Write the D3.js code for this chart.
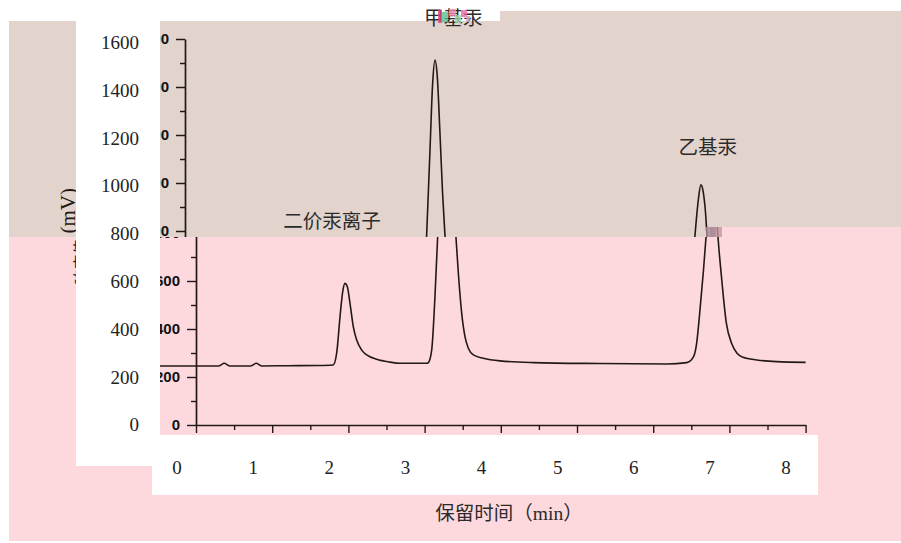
<!DOCTYPE html>
<html>
<head>
<meta charset="utf-8">
<script src="https://cdn.jsdelivr.net/npm/d3@7"></script>
<style>
  html, body { margin: 0; padding: 0; background: #fff; }
  svg { display: block; }
</style>
</head>
<body>
<div id="chart"></div>
<script>
// chromatogram: retention time (min) and signal (mV)
const times = [-0.5, 0, 0.30, 0.37, 0.44, 0.72, 0.79, 0.86, 1.20, 1.60,
  1.80, 1.846, 1.89, 1.925, 1.955, 1.986, 2.021, 2.064, 2.109, 2.175, 2.24, 2.371, 2.546, 2.677, 3.028,
  3.049, 3.093, 3.136, 3.17, 3.215, 3.25, 3.281, 3.311, 3.346, 3.38, 3.41, 3.443, 3.487, 3.53, 3.574, 3.64, 3.771, 3.99, 4.43, 5.30,
  6.18, 6.44, 6.53, 6.57, 6.61, 6.66, 6.695, 6.736, 6.77, 6.80, 6.83, 6.85, 6.90, 6.96, 7.03, 7.10, 7.18, 7.36, 7.62, 8.0];
const signal = [246, 246, 246, 257, 246, 246, 257, 246, 247, 248,
  250, 299, 451, 555, 590, 576, 507, 410, 354, 312, 292, 274, 262, 257, 257,
  260, 312, 535, 775, 1137, 1415, 1512, 1443, 1207, 960, 790, 632, 465, 368, 320, 292, 278, 267, 260, 256,
  254, 260, 285, 340, 465, 646, 790, 929, 992, 964, 880, 785, 604, 424, 340, 299, 282, 271, 264, 261];

// peak names and where they are written (time, mV)
const peakNames = ["二价汞离子", "甲基汞", "乙基汞"];
const peakLabelTimes = [1.93, 3.52, 6.86];
const peakLabelValues = [848, 1692, 1158];

const yTicks = [0, 200, 400, 600, 800, 1000, 1200, 1400, 1600];
const yMinor = [100, 300, 500, 700, 900, 1100, 1300, 1500];
const xTicks = [0, 1, 2, 3, 4, 5, 6, 7, 8];
const xMinor = [0.5, 1.5, 2.5, 3.5, 4.5, 5.5, 6.5, 7.5];

const yTitleName = "响应值";
const yTitleUnit = "(mV)";
const xTitle = "保留时间（min）";

const data = times.map((t, i) => ({t: t, v: signal[i]}));

const W = 901, H = 543;
const ink = "#231815";

const svg = d3.select("#chart").append("svg")
  .attr("width", W)
  .attr("height", H);

const x = d3.scaleLinear().domain([0, 8]).range([196, 805.6]);
const y = d3.scaleLinear().domain([0, 1600]).range([425, 41]);

// background bands (the scan is split in two slightly shifted strips)
const brownPts = [[9,21],[500,21],[500,11],[901,11],[901,227],[714,227],[714,237],[9,237]];
const pinkPts = [[9,237],[714,237],[714,227],[901,227],[901,541],[9,541]];

const defs = svg.append("defs");
defs.append("clipPath").attr("id", "clipTop")
  .append("polygon").attr("points", brownPts.join(" "));
defs.append("clipPath").attr("id", "clipLow")
  .append("polygon").attr("points", pinkPts.join(" "));

svg.append("polygon").attr("points", pinkPts.join(" ")).attr("fill", "#fdd9dd");
svg.append("polygon").attr("points", brownPts.join(" ")).attr("fill", "#e2d4cc");

const line = d3.line()
  .x(d => x(d.t))
  .y(d => y(d.v))
  .curve(d3.curveMonotoneX);

const drawChart = (g) => {
  // y title (mostly hidden under the white strip)
  const yt = g.append("text")
    .attr("transform", "translate(86,190) rotate(-90)")
    .attr("text-anchor", "end")
    .attr("font-family", "'Liberation Serif', 'Noto Sans CJK SC', serif")
    .attr("fill", ink);
  yt.append("tspan").attr("font-size", 15).text(yTitleName);
  yt.append("tspan").attr("font-size", 21).attr("dx", 4).text(yTitleUnit);

  // minor ticks
  const ym = g.append("g").attr("transform", "translate(" + x(0) + ",0)")
    .call(d3.axisLeft(y).tickValues(yMinor).tickSize(5).tickFormat(""));
  ym.select(".domain").remove();
  const xm = g.append("g").attr("transform", "translate(0," + y(0) + ")")
    .call(d3.axisBottom(x).tickValues(xMinor).tickSize(5).tickFormat(""));
  xm.select(".domain").remove();

  // y axis
  g.append("g")
    .attr("class", "axis axis--y")
    .attr("transform", "translate(" + x(0) + ",0)")
    .call(d3.axisLeft(y).tickValues(yTicks).tickSize(9).tickSizeOuter(0).tickPadding(7).tickFormat(d3.format("d")));

  // x axis
  g.append("g")
    .attr("class", "axis axis--x")
    .attr("transform", "translate(0," + y(0) + ")")
    .call(d3.axisBottom(x).tickValues(xTicks).tickSize(8).tickSizeOuter(0).tickPadding(6).tickFormat(d3.format("d")));

  g.selectAll(".tick line").attr("stroke", ink).attr("stroke-width", 1.4);
  g.selectAll(".domain").attr("stroke", ink).attr("stroke-width", 1.7);
  g.selectAll(".tick text")
    .attr("font-family", "'Liberation Sans', Arial, sans-serif")
    .attr("font-weight", "bold")
    .attr("font-size", 15)
    .attr("fill", "#111");

  g.append("path")
    .datum(data)
    .attr("fill", "none")
    .attr("stroke", ink)
    .attr("stroke-width", 1.6)
    .attr("d", line);
};

// lower strip
const lowStrip = svg.append("g").attr("clip-path", "url(#clipLow)");
drawChart(lowStrip);

// upper strip, shifted
const topStrip = svg.append("g").attr("clip-path", "url(#clipTop)")
  .append("g").attr("transform", "translate(-11,-2)");
drawChart(topStrip);

// peak labels
svg.append("g").attr("transform", "translate(-11,-2)")
  .selectAll("text")
  .data(peakNames)
  .enter().append("text")
  .attr("x", (d, i) => x(peakLabelTimes[i]))
  .attr("y", (d, i) => y(peakLabelValues[i]))
  .attr("text-anchor", "middle")
  .attr("dominant-baseline", "central")
  .attr("font-family", "'Noto Sans CJK SC', sans-serif")
  .attr("font-size", 19.5)
  .attr("fill", "#2b2b2b")
  .text(d => d);

// scan glitches
const glitches = [
  [438, 10, 4, 13, "#e0457b"], [442, 12, 6, 10, "#55c08e"], [449, 9, 7, 7, "#f08ab0"],
  [455, 15, 6, 8, "#9ad8b0"], [461, 10, 6, 7, "#e86aa0"], [466, 16, 4, 6, "#c9a3c0"],
  [706, 227, 4, 10, "#b08c98"], [710, 227, 6, 10, "#9f7d8d"], [716, 227, 6, 10, "#c3969f"]
];
svg.append("g").selectAll("rect")
  .data(glitches)
  .enter().append("rect")
  .attr("x", d => d[0]).attr("y", d => d[1])
  .attr("width", d => d[2]).attr("height", d => d[3])
  .attr("fill", d => d[4])
  .attr("opacity", 0.8);

// white patches with the retyped tick labels
svg.append("rect").attr("x", 76).attr("y", 0).attr("width", 84).attr("height", 466).attr("fill", "#fff");
svg.append("rect").attr("x", 152).attr("y", 435).attr("width", 666).attr("height", 60).attr("fill", "#fff");

const yLab = d3.scaleLinear().domain([0, 1600]).range([425, 42.5]);
const xLab = d3.scaleLinear().domain([0, 8]).range([177, 786]);

svg.append("g").selectAll("text")
  .data(yTicks)
  .enter().append("text")
  .attr("x", 139)
  .attr("y", d => yLab(d))
  .attr("dy", "0.34em")
  .attr("text-anchor", "end")
  .attr("font-family", "'Liberation Serif', 'Times New Roman', serif")
  .attr("font-size", 19)
  .attr("fill", "#222")
  .text(d => d);

svg.append("g").selectAll("text")
  .data(xTicks)
  .enter().append("text")
  .attr("x", d => xLab(d))
  .attr("y", 468)
  .attr("dy", "0.34em")
  .attr("text-anchor", "middle")
  .attr("font-family", "'Liberation Serif', 'Times New Roman', serif")
  .attr("font-size", 19)
  .attr("fill", "#222")
  .text(d => d);

svg.append("text")
  .attr("x", 509)
  .attr("y", 513)
  .attr("dominant-baseline", "central")
  .attr("text-anchor", "middle")
  .attr("font-family", "'Liberation Serif', 'Noto Sans CJK SC', serif")
  .attr("font-size", 19.5)
  .attr("fill", "#2b2b2b")
  .text(xTitle);
</script>
</body>
</html>
